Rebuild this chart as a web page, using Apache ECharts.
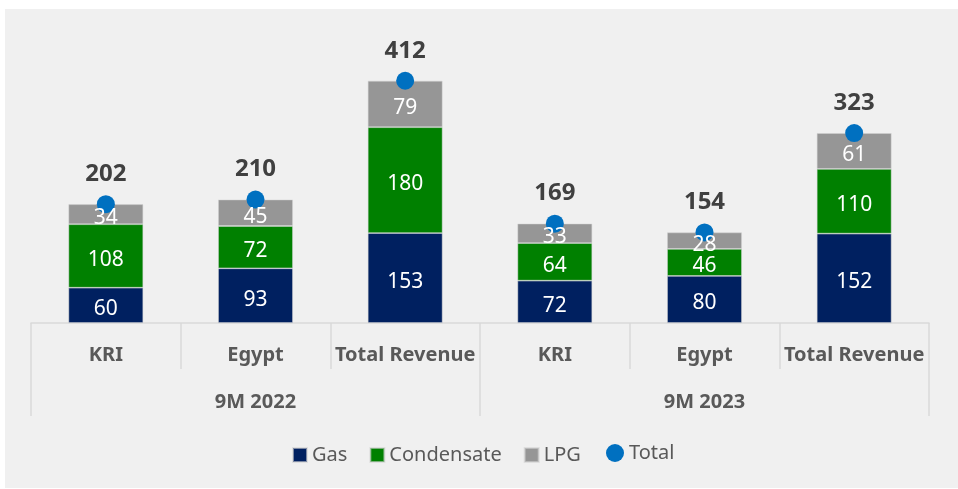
<!DOCTYPE html>
<html>
<head>
<meta charset="utf-8">
<script src="https://cdn.jsdelivr.net/npm/echarts@6/dist/echarts.min.js"></script>
<style>
html,body{margin:0;padding:0;background:#ffffff;width:958px;height:489px;overflow:hidden;}
#c{position:absolute;left:5px;top:9px;width:953px;height:479px;background:#f0f0f0;}
</style>
</head>
<body>
<div id="c"></div>
<script>
const categories = ['KRI', 'Egypt', 'Total Revenue', 'KRI', 'Egypt', 'Total Revenue'];
const periods = ['9M 2022', '9M 2023'];
const gas = [60, 93, 153, 72, 80, 152];
const condensate = [108, 72, 180, 64, 46, 110];
const lpg = [34, 45, 79, 33, 28, 61];
const total = [202, 210, 412, 169, 154, 323];

const FONT = 'Noto Sans';
const chart = echarts.init(document.getElementById('c'), null, {renderer: 'canvas'});
const innerLabel = {
  show: true, position: 'inside', color: '#ffffff', offset: [0, 4],
  fontFamily: FONT, fontSize: 21, fontWeight: 'normal'
};
const barBorder = {borderColor: 'rgba(210,210,210,0.6)', borderWidth: 0.8};

function barSeries(name, data, color) {
  return {name: name, type: 'bar', stack: 'rev', barWidth: '50%', barGap: '-100%', data: data, z: 2,
          itemStyle: Object.assign({color: color}, barBorder), label: {show: false}};
}
function labelSeries(name, data) {
  return {name: name + ' label', type: 'bar', stack: 'lbl', barWidth: '50%', barGap: '-100%',
          data: data, z: 4, silent: true,
          itemStyle: {color: 'rgba(0,0,0,0)', borderWidth: 0}, label: innerLabel};
}

chart.setOption({
  animation: false,
  textStyle: {fontFamily: FONT},
  grid: {left: 26, right: 29, top: 20, bottom: 165, containLabel: false},
  legend: [
    {
      data: ['Gas', 'Condensate', 'LPG'],
      left: 287, top: 436, padding: 0,
      itemWidth: 14, itemHeight: 14, itemGap: 22,
      icon: 'rect',
      textStyle: {color: '#595959', fontSize: 20, fontFamily: FONT, lineHeight: 20}
    },
    {
      data: [{name: 'Total', icon: 'circle'}],
      left: 601, top: 434, padding: 0,
      itemWidth: 18, itemHeight: 18,
      textStyle: {color: '#595959', fontSize: 20, fontFamily: FONT, lineHeight: 20}
    }
  ],
  xAxis: [
    {
      type: 'category', data: categories, position: 'bottom',
      axisLine: {show: true, lineStyle: {color: '#d9d9d9', width: 1.5}},
      axisTick: {show: true, interval: 0, length: 46, lineStyle: {color: '#d9d9d9', width: 1.5}},
      axisLabel: {interval: 0, margin: 22, color: '#595959', fontFamily: FONT,
                  fontSize: 20, fontWeight: 'bold', lineHeight: 20}
    },
    {
      type: 'category', data: periods, position: 'bottom', gridIndex: 0,
      axisLine: {show: false},
      axisTick: {show: true, interval: 0, length: 93, lineStyle: {color: '#d9d9d9', width: 1.5}},
      axisLabel: {interval: 0, margin: 69, color: '#595959', fontFamily: FONT,
                  fontSize: 20, fontWeight: 'bold', lineHeight: 20}
    }
  ],
  yAxis: {type: 'value', min: 0, max: 500, show: false, splitLine: {show: false}},
  series: [
    barSeries('Gas', gas, '#002060'),
    barSeries('Condensate', condensate, '#008000'),
    barSeries('LPG', lpg, '#969696'),
    {name: 'Total', type: 'scatter', data: total, symbol: 'circle', symbolSize: 18,
     z: 3, itemStyle: {color: '#0070C0', opacity: 1},
     label: {show: true, position: 'top', distance: 9, color: '#404040',
             fontFamily: FONT, fontSize: 24, fontWeight: 'bold', lineHeight: 24}},
    labelSeries('Gas', gas),
    labelSeries('Condensate', condensate),
    labelSeries('LPG', lpg)
  ]
});
</script>
</body>
</html>
